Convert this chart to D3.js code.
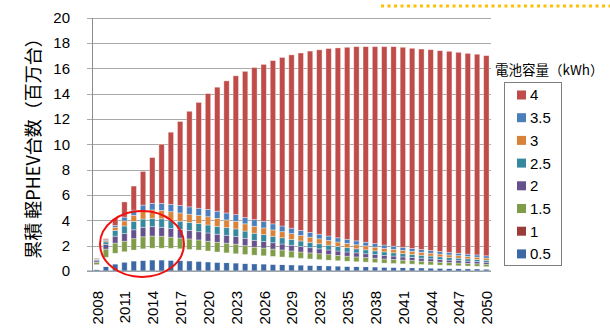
<!DOCTYPE html>
<html>
<head>
<meta charset="utf-8">
<script src="https://cdn.jsdelivr.net/npm/d3@7/dist/d3.min.js"></script>
<style>
  html, body { margin: 0; padding: 0; background: #ffffff; }
  svg { display: block; }
</style>
</head>
<body>
<svg id="chart" width="610" height="329"></svg>
<script>
// Cumulative light PHEV fleet (million units), split by battery capacity (kWh)
const years = [2008,2009,2010,2011,2012,2013,2014,2015,2016,2017,2018,2019,2020,2021,2022,2023,2024,2025,
  2026,2027,2028,2029,2030,2031,2032,2033,2034,2035,2036,2037,2038,2039,2040,2041,2042,2043,2044,2045,2046,2047,2048,2049,2050];

const kwh05 = [0.12,0.35,0.55,0.70,0.79,0.84,0.87,0.87,0.85,0.83,0.80,0.77,0.72,0.69,0.66,0.63,0.60,0.57,
  0.55,0.53,0.51,0.49,0.47,0.45,0.43,0.41,0.39,0.37,0.35,0.34,0.32,0.30,0.29,0.27,0.26,0.25,0.23,0.22,0.20,0.19,0.18,0.17,0.15];
const kwh1 = [0.38,0.73,0.85,0.82,0.86,0.91,0.93,0.93,0.94,0.92,0.90,0.88,0.86,0.81,0.77,0.73,0.70,0.68,
  0.65,0.62,0.59,0.56,0.53,0.50,0.47,0.44,0.42,0.40,0.38,0.36,0.34,0.32,0.30,0.29,0.28,0.26,0.25,0.24,0.23,0.22,0.21,0.20,0.19];
const kwh15 = [0.18,0.65,0.80,0.83,0.90,0.95,0.96,0.94,0.88,0.85,0.83,0.80,0.77,0.77,0.77,0.76,0.70,0.63,
  0.61,0.58,0.56,0.53,0.50,0.48,0.46,0.44,0.42,0.40,0.38,0.36,0.35,0.33,0.32,0.30,0.28,0.27,0.26,0.24,0.23,0.22,0.21,0.20,0.19];
const kwh2 = [0.12,0.37,0.55,0.60,0.70,0.75,0.74,0.71,0.68,0.68,0.67,0.65,0.65,0.63,0.62,0.60,0.58,0.54,
  0.52,0.50,0.47,0.45,0.43,0.41,0.39,0.37,0.35,0.33,0.32,0.30,0.29,0.28,0.27,0.25,0.24,0.23,0.22,0.21,0.20,0.19,0.18,0.17,0.16];
const kwh25 = [0.08,0.20,0.45,0.60,0.65,0.65,0.66,0.67,0.67,0.65,0.64,0.64,0.63,0.62,0.60,0.60,0.57,0.56,
  0.54,0.51,0.49,0.46,0.44,0.42,0.40,0.38,0.36,0.34,0.32,0.31,0.29,0.28,0.26,0.26,0.24,0.23,0.22,0.21,0.20,0.19,0.18,0.17,0.16];
const kwh3 = [0.05,0.10,0.25,0.40,0.50,0.60,0.66,0.66,0.66,0.65,0.64,0.64,0.65,0.63,0.61,0.60,0.57,0.55,
  0.53,0.50,0.48,0.46,0.43,0.41,0.39,0.37,0.35,0.34,0.32,0.31,0.29,0.28,0.27,0.26,0.25,0.24,0.23,0.22,0.21,0.20,0.19,0.18,0.17];
const kwh35 = [0.03,0.07,0.15,0.30,0.40,0.50,0.52,0.55,0.58,0.59,0.58,0.57,0.58,0.57,0.55,0.53,0.50,0.52,
  0.50,0.48,0.45,0.43,0.40,0.38,0.36,0.35,0.33,0.32,0.31,0.29,0.28,0.26,0.25,0.24,0.23,0.22,0.21,0.20,0.20,0.19,0.18,0.18,0.18];
const kwh4 = [0.04,0.08,0.55,1.20,1.90,2.65,3.61,4.67,5.69,6.63,7.54,8.35,9.14,9.78,10.42,10.95,11.53,12.00,
  12.40,12.88,13.30,13.67,14.00,14.30,14.55,14.79,14.98,15.15,15.32,15.43,15.54,15.65,15.74,15.78,15.79,15.81,15.84,15.84,15.86,15.85,15.84,15.83,15.79];

const seriesKeys = ["0.5","1","1.5","2","2.5","3","3.5","4"];
const seriesValues = [kwh05, kwh1, kwh15, kwh2, kwh25, kwh3, kwh35, kwh4];
const barColors = ["#3c69a6","#ffffff","#7f9d48","#66518c","#36889e","#db8239","#4b7fbc","#bf4c49"];
const legendColors = ["#3c69a6","#9c3c39","#7f9d48","#66518c","#36889e","#db8239","#4b7fbc","#bf4c49"];

const yTicks = [0,2,4,6,8,10,12,14,16,18,20];
const xTickYears = [2008,2011,2014,2017,2020,2023,2026,2029,2032,2035,2038,2041,2044,2047,2050];

const yTitle = "累積 軽PHEV台数（百万台）";
const legendTitle = "電池容量（kWh）";

// rows for d3.stack
const table = years.map((yr, i) => {
  const row = { year: yr };
  seriesKeys.forEach((k, j) => { row[k] = seriesValues[j][i]; });
  return row;
});

const svg = d3.select("#chart");
const plot = { left: 92, right: 491, top: 17.5, bottom: 271 };

const x = d3.scaleBand()
  .domain(years)
  .range([plot.left, plot.right])
  .paddingInner(0.42)
  .paddingOuter(0.21);

const y = d3.scaleLinear()
  .domain([0, 20])
  .range([plot.bottom, plot.top]);

const numFont = "'Liberation Sans', Arial, sans-serif";
const cjkFont = "'Noto Sans CJK JP', 'Noto Sans', sans-serif";

// gridlines + y axis
const yAxis = d3.axisLeft(y)
  .tickValues(yTicks)
  .tickSize(-(plot.right - plot.left))
  .tickPadding(0)
  .tickFormat(d3.format("d"));

const gy = svg.append("g")
  .attr("transform", `translate(${plot.left},0)`)
  .call(yAxis);
gy.select(".domain").remove();
gy.selectAll(".tick line")
  .attr("x1", -5)
  .attr("stroke", "#a9a9a9")
  .attr("stroke-width", 1)
  .attr("shape-rendering", "crispEdges");
gy.selectAll(".tick text")
  .attr("x", 70 - plot.left)
  .attr("font-family", numFont)
  .attr("font-size", 15)
  .attr("fill", "#000");

// vertical axis line
svg.append("line")
  .attr("x1", plot.left).attr("x2", plot.left)
  .attr("y1", y(20)).attr("y2", y(0))
  .attr("stroke", "#8c8c8c")
  .attr("shape-rendering", "crispEdges");

// stacked bars
const stacked = d3.stack().keys(seriesKeys)(table);

const layers = svg.append("g").selectAll("g")
  .data(stacked)
  .join("g")
  .attr("fill", (d, i) => barColors[i]);

layers.selectAll("rect")
  .data(d => d)
  .join("rect")
  .attr("x", d => x(d.data.year))
  .attr("width", x.bandwidth())
  .attr("y", d => y(d[1]))
  .attr("height", d => Math.max(0, y(d[0]) - y(d[1])))
  .attr("stroke", "rgba(255,255,255,0.45)")
  .attr("stroke-width", 0.8);

// horizontal category axis
svg.append("line")
  .attr("x1", plot.left - 5).attr("x2", plot.right)
  .attr("y1", y(0)).attr("y2", y(0))
  .attr("stroke", "#8a96a6")
  .attr("stroke-width", 1.2);

// year labels, vertical
svg.append("g").selectAll("text")
  .data(xTickYears)
  .join("text")
  .attr("transform", d => `translate(${x(d) + x.bandwidth() / 2 + 0.5},291) rotate(-90)`)
  .attr("text-anchor", "end")
  .attr("dy", "0.36em")
  .attr("font-family", numFont)
  .attr("font-size", 15)
  .attr("fill", "#000")
  .text(d => d);

// y-axis title
svg.append("text")
  .attr("transform", "translate(34,144) rotate(-90)")
  .attr("text-anchor", "middle")
  .attr("dy", "0.35em")
  .attr("font-family", cjkFont)
  .attr("font-size", 18)
  .attr("fill", "#000")
  .text(yTitle);

// legend
svg.append("text")
  .attr("x", 495).attr("y", 75)
  .attr("font-family", cjkFont)
  .attr("font-size", 13.5)
  .attr("fill", "#000")
  .text(legendTitle);

svg.append("rect")
  .attr("x", 504.5).attr("y", 82.5)
  .attr("width", 57).attr("height", 183)
  .attr("fill", "#fff")
  .attr("stroke", "#7f7f7f");

const legendOrder = seriesKeys.map((k, i) => ({ key: k, color: legendColors[i] })).reverse();
const lg = svg.append("g").selectAll("g")
  .data(legendOrder)
  .join("g")
  .attr("transform", (d, i) => `translate(517,${95 + i * 22.7})`);
lg.append("rect")
  .attr("x", 0).attr("y", -4.5)
  .attr("width", 9).attr("height", 9)
  .attr("fill", d => d.color);
lg.append("text")
  .attr("x", 13).attr("dy", "0.36em")
  .attr("font-family", numFont)
  .attr("font-size", 15)
  .attr("fill", "#000")
  .text(d => d.key);

// highlight ring around the early-market years
svg.append("ellipse")
  .attr("cx", 142).attr("cy", 244)
  .attr("rx", 42).attr("ry", 33)
  .attr("fill", "none")
  .attr("stroke", "#f01010")
  .attr("stroke-width", 2);

// dotted rule along the top edge
svg.append("line")
  .attr("x1", 381).attr("x2", 610)
  .attr("y1", 6).attr("y2", 6)
  .attr("stroke", "#ffc000")
  .attr("stroke-width", 3)
  .attr("stroke-dasharray", "3 3.5");
</script>
</body>
</html>
